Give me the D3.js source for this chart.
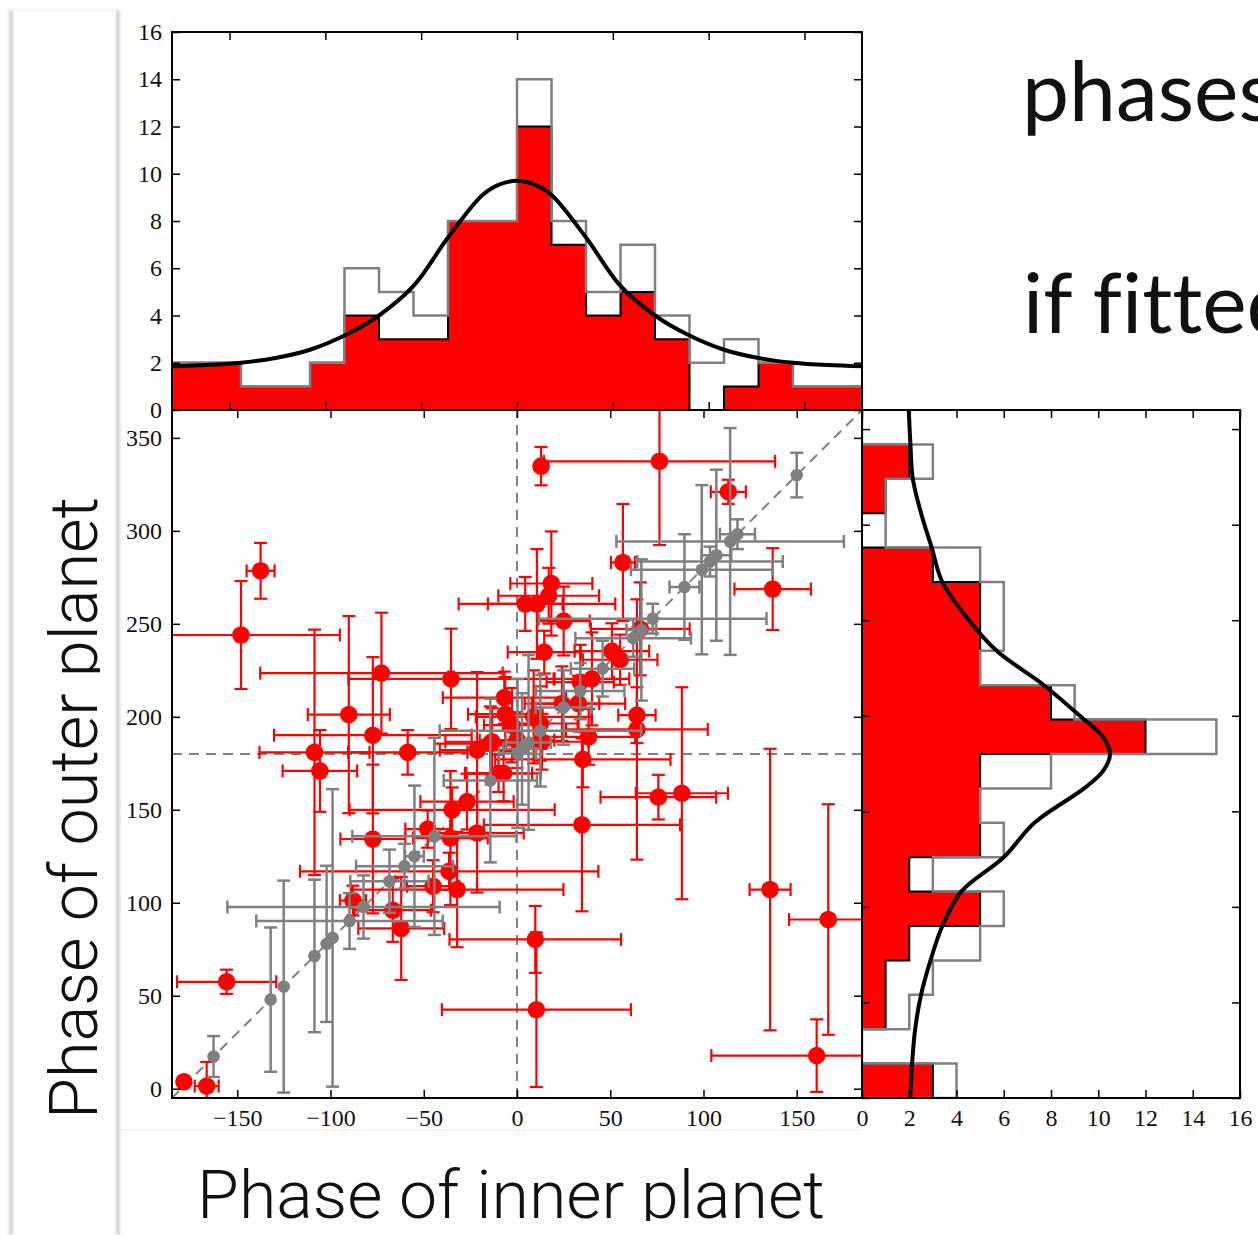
<!DOCTYPE html>
<html>
<head>
<meta charset="utf-8">
<script src="https://cdn.jsdelivr.net/npm/d3@7"></script>
<style>
  html, body { margin: 0; padding: 0; background: #fff; }
  svg { display: block; }
</style>
</head>
<body>
<div id="drawing"></div>
<script>
// ---- data ----

// histogram bins (degrees)
const topEdges = [-180, -162, -144, -126, -108, -90, -72, -54, -36, -18, 0, 18, 36, 54, 72, 90, 108, 126, 144, 162, 180];
const topRed  = [2, 2, 1, 1, 2, 4, 3, 3, 8, 8, 12, 7, 4, 5, 3, 0, 1, 2, 1, 1];
const topGray = [2, 2, 1, 1, 2, 6, 5, 4, 8, 8, 14, 8, 5, 7, 4, 2, 3, 2, 1, 1];

const rightEdges = [0, 18, 36, 54, 72, 90, 108, 126, 144, 162, 180, 198, 216, 234, 252, 270, 288, 306, 324, 342, 360];
const rightRed  = [3, 0, 1, 1, 2, 5, 2, 5, 5, 5, 12, 8, 5, 5, 5, 3, 0, 1, 2, 0];
const rightGray = [4, 0, 2, 3, 5, 6, 3, 6, 5, 8, 15, 9, 5, 6, 6, 5, 1, 1, 3, 0];

// fitted curves
const topFitPhase = [-180, -162, -144, -126, -108, -90, -72, -54, -36, -18, -9, 0, 9, 18, 36, 54, 72, 90, 108, 126, 144, 162, 180];
const topFitCount = [1.85, 1.9, 2.0, 2.2, 2.55, 3.15, 4.0, 5.25, 7.3, 9.1, 9.55, 9.7, 9.55, 9.1, 7.3, 5.25, 4.0, 3.15, 2.55, 2.2, 2.0, 1.9, 1.85];

const rightFitPhase = [0, 18, 36, 54, 72, 90, 108, 126, 144, 162, 171, 180, 189, 198, 216, 234, 252, 270, 288, 306, 324, 342, 360];
const rightFitCount = [2.04, 2.12, 2.25, 2.5, 2.9, 3.4, 4.2, 6.0, 7.3, 9.4, 10.2, 10.5, 10.2, 9.4, 7.7, 5.7, 4.4, 3.4, 2.95, 2.5, 2.15, 2.05, 1.98];

// scatter: [inner phase, outer phase, x error, y error]
const redPoints = [
  [-178.6, 3.7, 0, 0], [-166.4, 1.4, 6.4, 13], [-155.7, 57.5, 26.6, 6.5], [-137.5, 278.5, 7.5, 15],
  [-148, 244, 53, 29], [-72.7, 223.5, 65, 32.5], [-35.4, 220.4, 55, 27], [-90.2, 201.2, 22, 53],
  [-77.3, 190.1, 53, 42], [-108.6, 180.9, 29.5, 66], [-58.6, 180.9, 32, 12], [-105.7, 170.9, 20, 22],
  [-77.3, 134.3, 17.4, 40], [-88, 101.2, 7, 8], [-66.6, 96, 20.5, 17], [-62.1, 86.2, 23, 27.7],
  [-47.9, 139.6, 12, 10], [-45, 108.9, 14, 14], [-36.4, 116.9, 80, 10], [-35.7, 134.8, 20, 36],
  [-32.1, 107.1, 57, 31], [-34.8, 150, 55, 12], [-26.8, 154.4, 25, 15], [-21.4, 137.5, 25, 32],
  [-21.4, 182.1, 20, 42], [-14.3, 185.6, 30, 20], [-9.9, 169.6, 18, 10], [-7.2, 169.6, 20, 15],
  [-6.8, 210.3, 33, 14], [-6.3, 201.4, 20, 20], [-2.7, 195.5, 15, 20], [0, 187.5, 20, 15],
  [-13.4, 186.6, 25, 18], [8.9, 200, 31, 25], [12.5, 196.4, 20, 20], [13.4, 186.6, 25, 15],
  [4.4, 260.7, 20, 14.5], [10.7, 260.7, 42, 29.5], [17, 265.1, 27, 15], [18.4, 271.7, 22, 28],
  [25, 251.5, 14, 18.5], [14.6, 234.8, 19.6, 11.5], [12.9, 334.8, 0, 10.3], [76.4, 337.4, 62, 45],
  [113.3, 321, 9.4, 6.5], [56.8, 283, 6.4, 31.5], [137.1, 268.7, 20.5, 22], [24.1, 207.1, 20, 20],
  [33, 207.1, 25, 15], [33.9, 218.7, 18, 20], [40.2, 220.4, 20, 25], [50.9, 235.3, 20, 15],
  [55.3, 230.7, 20, 13.5], [66.1, 247.3, 26.5, 25], [64.3, 200.9, 10, 15], [64.3, 193.2, 38, 70],
  [38.4, 189.2, 25, 15], [35.3, 177.1, 47, 15], [34.8, 141.9, 52.6, 46.5], [75.8, 156.8, 31, 12],
  [88.4, 158.9, 24.7, 57], [135.7, 107.1, 11, 75.7], [166.9, 91, 21, 62], [160.7, 17.8, 56.5, 19.5],
  [9.8, 80.3, 46, 18], [10.4, 42.5, 50.7, 41.6]
];

const grayPoints = [
  [-162.7, 17.3, 0, 11], [-132.1, 47.9, 0, 38.8], [-125.1, 54.9, 0, 57], [-108.6, 71.4, 0, 41],
  [-102.1, 77.9, 0, 42], [-98.9, 81.1, 0, 80], [-89.8, 90.2, 50, 15], [-82.3, 97.7, 73, 17],
  [-68.4, 111.6, 21, 17], [-60.3, 119.7, 26, 12], [-55, 125, 5, 38], [-44.3, 135.7, 44, 53],
  [-14.3, 165.7, 25, 44], [0.3, 180.3, 10, 40], [2.7, 182.7, 10, 30], [6.2, 186.2, 12, 47],
  [12.5, 192.5, 54, 30], [25, 205, 15, 20], [33.9, 213.9, 23.7, 15], [45.9, 225.9, 17, 15],
  [62.3, 242.3, 31, 10], [66.7, 246.7, 8, 38], [72.8, 252.8, 61, 8], [89.8, 269.8, 8, 28.4],
  [99.1, 279.1, 38, 45.5], [103.5, 283.5, 39, 8], [106.9, 286.9, 8, 46], [114.3, 294.3, 61, 61],
  [118.2, 298.2, 9.4, 8], [150, 330, 0, 12]
];

// tick labels
const countTicks = [0, 2, 4, 6, 8, 10, 12, 14, 16];
const phaseTicksX = [-150, -100, -50, 0, 50, 100, 150];
const phaseTicksY = [0, 50, 100, 150, 200, 250, 300, 350];

// ---- layout ----
const svgWidth = 1258;
const svgHeight = 1235;
const RED = '#ff0000';
const GRAY = '#808080';
const serif = "'Liberation Serif', 'DejaVu Serif', serif";
const sans = "Roboto, 'Open Sans', 'Liberation Sans', sans-serif";

const svg = d3.select('#drawing')
  .append('svg')
  .attr('width', svgWidth)
  .attr('height', svgHeight);

const defs = svg.append('defs');
defs.append('filter').attr('id', 'soft')
  .append('feGaussianBlur').attr('stdDeviation', 1.4);

function addClip(id, x, y, w, h) {
  defs.append('clipPath').attr('id', id)
    .append('rect').attr('x', x).attr('y', y).attr('width', w).attr('height', h);
}
addClip('clipTop', 172, 32, 690, 378);
addClip('clipSc', 172, 410, 690, 688);
addClip('clipRight', 862, 410, 378, 688);
addClip('clipXLab', 0, 0, svgWidth, 1221);
addClip('clipYLab', 0, 0, 100, svgHeight);

// slide edges
const deco = svg.append('g').attr('filter', 'url(#soft)');
deco.append('line').attr('x1', 11).attr('x2', 11).attr('y1', 10).attr('y2', svgHeight)
  .attr('stroke', '#c4c4c4').attr('stroke-width', 3);
deco.append('line').attr('x1', 118).attr('x2', 118).attr('y1', 10).attr('y2', svgHeight)
  .attr('stroke', '#c4c4c4').attr('stroke-width', 3);
deco.append('line').attr('x1', 11).attr('x2', 118).attr('y1', 10).attr('y2', 10)
  .attr('stroke', '#ececec').attr('stroke-width', 2);
svg.append('line').attr('x1', 120).attr('x2', 862).attr('y1', 1130).attr('y2', 1130)
  .attr('stroke', '#f0f0f0').attr('stroke-width', 1.5);

// scales
const xTop = d3.scaleLinear().domain([-180, 180]).range([172, 862]);
const yTop = d3.scaleLinear().domain([0, 16]).range([410, 32]);
const xSc = d3.scaleLinear().domain([-185, 185]).range([172, 862]);
const ySc = d3.scaleLinear().domain([-5, 365]).range([1098, 410]);
const xR = d3.scaleLinear().domain([0, 16]).range([862, 1240]);
const yR = d3.scaleLinear().domain([0, 360]).range([1098, 410]);

// step outline of a histogram: [phase, count] pairs
function stepPts(edges, counts) {
  const pts = [[edges[0], 0]];
  counts.forEach((c, i) => {
    pts.push([edges[i], c]);
    pts.push([edges[i + 1], c]);
  });
  pts.push([edges[edges.length - 1], 0]);
  return pts;
}

// ---- top histogram ----
const gTop = svg.append('g').attr('clip-path', 'url(#clipTop)');
const topLine = d3.line().x(d => xTop(d[0])).y(d => yTop(d[1]));
gTop.append('path')
  .attr('d', topLine(stepPts(topEdges, topRed)) + 'Z')
  .attr('fill', RED).attr('stroke', '#000').attr('stroke-width', 2);
gTop.append('path')
  .attr('d', topLine(stepPts(topEdges, topGray)))
  .attr('fill', 'none').attr('stroke', GRAY).attr('stroke-width', 2.5);
gTop.append('path')
  .datum(topFitPhase.map((p, i) => [p, topFitCount[i]]))
  .attr('d', d3.line().x(d => xTop(d[0])).y(d => yTop(d[1])).curve(d3.curveCatmullRom))
  .attr('fill', 'none').attr('stroke', '#000').attr('stroke-width', 4);

// ---- right histogram ----
const gRight = svg.append('g').attr('clip-path', 'url(#clipRight)');
const rightLine = d3.line().x(d => xR(d[1])).y(d => yR(d[0]));
gRight.append('path')
  .attr('d', rightLine(stepPts(rightEdges, rightRed)) + 'Z')
  .attr('fill', RED).attr('stroke', '#000').attr('stroke-width', 2);
gRight.append('path')
  .attr('d', rightLine(stepPts(rightEdges, rightGray)))
  .attr('fill', 'none').attr('stroke', GRAY).attr('stroke-width', 2.5);
gRight.append('path')
  .datum(rightFitPhase.map((p, i) => [p, rightFitCount[i]]))
  .attr('d', d3.line().x(d => xR(d[1])).y(d => yR(d[0])).curve(d3.curveCatmullRom))
  .attr('fill', 'none').attr('stroke', '#000').attr('stroke-width', 4);

// ---- scatter ----
const gSc = svg.append('g').attr('clip-path', 'url(#clipSc)');
const dash = '10,7';
gSc.append('line')
  .attr('x1', xSc(0)).attr('x2', xSc(0)).attr('y1', ySc(-5)).attr('y2', ySc(365))
  .attr('stroke', GRAY).attr('stroke-width', 2).attr('stroke-dasharray', dash);
gSc.append('line')
  .attr('x1', xSc(-185)).attr('x2', xSc(185)).attr('y1', ySc(180)).attr('y2', ySc(180))
  .attr('stroke', GRAY).attr('stroke-width', 2).attr('stroke-dasharray', dash);
gSc.append('line')
  .attr('x1', xSc(-185)).attr('x2', xSc(185)).attr('y1', ySc(-5)).attr('y2', ySc(365))
  .attr('stroke', GRAY).attr('stroke-width', 2).attr('stroke-dasharray', dash);

function errorBars(g, data, color, width, cap) {
  const bars = g.append('g').attr('stroke', color).attr('stroke-width', width).attr('fill', 'none');
  data.forEach(d => {
    const cx = xSc(d[0]), cy = ySc(d[1]);
    if (d[2] > 0) {
      const x0 = xSc(d[0] - d[2]), x1 = xSc(d[0] + d[2]);
      bars.append('line').attr('x1', x0).attr('x2', x1).attr('y1', cy).attr('y2', cy);
      [x0, x1].forEach(x => bars.append('line')
        .attr('x1', x).attr('x2', x).attr('y1', cy - cap).attr('y2', cy + cap));
    }
    if (d[3] > 0) {
      const y0 = ySc(d[1] - d[3]), y1 = ySc(d[1] + d[3]);
      bars.append('line').attr('x1', cx).attr('x2', cx).attr('y1', y0).attr('y2', y1);
      [y0, y1].forEach(y => bars.append('line')
        .attr('x1', cx - cap).attr('x2', cx + cap).attr('y1', y).attr('y2', y));
    }
  });
}

errorBars(gSc, redPoints, RED, 2.2, 6.5);
gSc.append('g').selectAll('circle')
  .data(redPoints)
  .enter()
  .append('circle')
  .attr('cx', d => xSc(d[0]))
  .attr('cy', d => ySc(d[1]))
  .attr('r', 8.8)
  .attr('fill', RED);

errorBars(gSc, grayPoints, GRAY, 2.5, 6.5);
gSc.append('g').selectAll('circle')
  .data(grayPoints)
  .enter()
  .append('circle')
  .attr('cx', d => xSc(d[0]))
  .attr('cy', d => ySc(d[1]))
  .attr('r', 6.3)
  .attr('fill', GRAY);

// ---- axes ----
const fmt = d => d < 0 ? '\u2212' + Math.abs(d) : String(d);

function drawAxis(axis, tx, ty) {
  const g = svg.append('g')
    .attr('transform', `translate(${tx},${ty})`)
    .call(axis.tickSizeInner(-8).tickSizeOuter(0));
  g.select('.domain').remove();
  g.attr('font-family', serif).attr('font-size', 24);
  g.selectAll('line').attr('stroke', '#000').attr('stroke-width', 1.5);
  g.selectAll('text').attr('fill', '#111');
  return g;
}

// top histogram
drawAxis(d3.axisLeft(yTop).tickValues(countTicks).tickPadding(10).tickFormat(fmt), 172, 0);
drawAxis(d3.axisRight(yTop).tickValues(countTicks).tickFormat(''), 862, 0);
drawAxis(d3.axisTop(xTop).tickValues(phaseTicksX).tickFormat(''), 0, 32);
drawAxis(d3.axisBottom(xTop).tickValues(phaseTicksX).tickFormat(''), 0, 410);

// scatter
drawAxis(d3.axisLeft(ySc).tickValues(phaseTicksY).tickPadding(10).tickFormat(fmt), 172, 0);
drawAxis(d3.axisRight(ySc).tickValues(phaseTicksY).tickFormat(''), 862, 0);
drawAxis(d3.axisBottom(xSc).tickValues(phaseTicksX).tickPadding(11).tickFormat(fmt), 0, 1098);
drawAxis(d3.axisTop(xSc).tickValues(phaseTicksX).tickFormat(''), 0, 410);

// right histogram
drawAxis(d3.axisBottom(xR).tickValues(countTicks).tickPadding(11).tickFormat(fmt), 0, 1098);
drawAxis(d3.axisTop(xR).tickValues(countTicks).tickFormat(''), 0, 410);
drawAxis(d3.axisLeft(yR).tickValues(phaseTicksY).tickFormat(''), 862, 0);
drawAxis(d3.axisRight(yR).tickValues(phaseTicksY).tickFormat(''), 1240, 0);

// frames
[[172, 32, 690, 378], [172, 410, 690, 688], [862, 410, 378, 688]].forEach(r => {
  svg.append('rect')
    .attr('x', r[0]).attr('y', r[1]).attr('width', r[2]).attr('height', r[3])
    .attr('fill', 'none').attr('stroke', '#000').attr('stroke-width', 2);
});

// ---- axis titles ----
svg.append('g').attr('clip-path', 'url(#clipXLab)')
  .append('text')
  .attr('x', 197).attr('y', 1218)
  .attr('font-family', sans).attr('font-weight', 300).attr('font-size', 66)
  .attr('textLength', 628).attr('lengthAdjust', 'spacingAndGlyphs')
  .attr('fill', '#111')
  .text('Phase of inner planet');

svg.append('g').attr('clip-path', 'url(#clipYLab)')
  .append('text')
  .attr('transform', 'translate(97,808) rotate(-90)')
  .attr('text-anchor', 'middle')
  .attr('font-family', sans).attr('font-weight', 300).attr('font-size', 66)
  .attr('textLength', 622).attr('lengthAdjust', 'spacingAndGlyphs')
  .attr('fill', '#111')
  .text('Phase of outer planet');

// ---- slide text on the right (runs off the slide edge, as in the original) ----
svg.append('text')
  .attr('x', 1022).attr('y', 121)
  .attr('font-family', "Lato, 'Open Sans', sans-serif").attr('font-size', 84)
  .style('font-variant-ligatures', 'none')
  .attr('fill', '#111')
  .text('phases');
svg.append('text')
  .attr('x', 1023).attr('y', 333)
  .attr('font-family', "Lato, 'Open Sans', sans-serif").attr('font-size', 84)
  .style('font-variant-ligatures', 'none')
  .attr('fill', '#111')
  .text('if fitted');
</script>
</body>
</html>
